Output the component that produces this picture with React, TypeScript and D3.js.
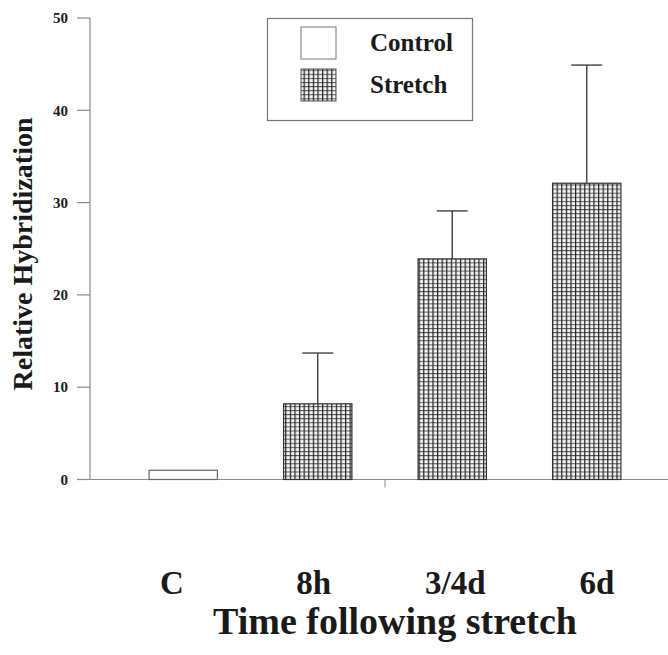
import React from "react";
import * as d3 from "d3";

const categories = ["C", "8h", "3/4d", "6d"];
const series = ["Control", "Stretch", "Stretch", "Stretch"];
const values = [1, 8.2, 23.9, 32.1];
const errorTops = [null, 13.7, 29.1, 44.9];
const yTicks = [0, 10, 20, 30, 40, 50];
const legendItems = ["Control", "Stretch"];
const xTitle = "Time following stretch";
const yTitle = "Relative Hybridization";

const W = 668;
const H = 655;
const FONT = "'Liberation Serif', 'Times New Roman', serif";

export default function App() {
  const y = d3.scaleLinear().domain([0, 50]).range([479.5, 18]);
  const x = d3.scalePoint<string>().domain(categories).range([116, 654]).padding(0.5);
  const step = x.step();
  const barW = step * 0.508;
  const capW = step * 0.23;
  const xl = d3.scalePoint<string>().domain(categories).range([172, 597]);
  const axisX = 90;
  const axisColor = "#8a8a8a";

  const midTick = ((x(categories[1]) as number) + (x(categories[2]) as number)) / 2;

  return (
    <svg
      width={W}
      height={H}
      style={{ position: "absolute", left: 0, top: 0, background: "#fff" }}
      fontFamily={FONT}
    >
      <defs>
        <pattern id="grid" width={4.6} height={4.1} patternUnits="userSpaceOnUse">
          <rect width={4.6} height={4.1} fill="#f2f2f2" />
          <line x1={0} y1={0.5} x2={4.6} y2={0.5} stroke="#555" strokeWidth={1} />
          <line x1={0.6} y1={0} x2={0.6} y2={4.1} stroke="#222" strokeWidth={1.2} />
        </pattern>
      </defs>

      {/* y axis */}
      <line x1={axisX} y1={y(50)} x2={axisX} y2={y(0)} stroke={axisColor} strokeWidth={1.2} />
      {yTicks.map((t) => (
        <g key={t}>
          <line x1={77} x2={axisX} y1={y(t)} y2={y(t)} stroke={axisColor} strokeWidth={1.2} />
          <text
            x={68}
            y={y(t)}
            dy="0.35em"
            textAnchor="end"
            fontSize={15}
            fontWeight="bold"
            fill="#1a1a1a"
          >
            {t}
          </text>
        </g>
      ))}
      {/* baseline */}
      <line x1={axisX} y1={y(0)} x2={W} y2={y(0)} stroke={axisColor} strokeWidth={1.2} />
      <line x1={midTick} x2={midTick} y1={y(0)} y2={y(0) + 8} stroke={axisColor} strokeWidth={1} />

      {/* bars */}
      {categories.map((c, i) => {
        const cx = x(c) as number;
        const top = y(values[i]);
        return (
          <g key={c}>
            <rect
              x={cx - barW / 2}
              y={top}
              width={barW}
              height={y(0) - top}
              fill={series[i] === "Control" ? "#fff" : "url(#grid)"}
              stroke={series[i] === "Control" ? "#666" : "#333"}
              strokeWidth={1.2}
            />
            {errorTops[i] != null && (
              <g stroke="#333" strokeWidth={1.3}>
                <line x1={cx} x2={cx} y1={top} y2={y(errorTops[i] as number)} />
                <line
                  x1={cx - capW / 2}
                  x2={cx + capW / 2}
                  y1={y(errorTops[i] as number)}
                  y2={y(errorTops[i] as number)}
                />
              </g>
            )}
          </g>
        );
      })}

      {/* legend */}
      <rect x={267.5} y={18.5} width={205} height={102} fill="#fff" stroke="#777" strokeWidth={1.2} />
      {legendItems.map((l, i) => (
        <g key={l}>
          <rect
            x={301}
            y={27 + i * 42}
            width={35}
            height={32}
            fill={l === "Control" ? "#fff" : "url(#grid)"}
            stroke={l === "Control" ? "#777" : "#555"}
            strokeWidth={1}
          />
          <text x={370} y={51 + i * 42} fontSize={25} fontWeight="bold" fill="#1a1a1a">
            {l}
          </text>
        </g>
      ))}

      {/* x labels */}
      {categories.map((c) => (
        <text
          key={c}
          x={xl(c) as number}
          y={594}
          textAnchor="middle"
          fontSize={33}
          fontWeight="bold"
          fill="#1a1a1a"
        >
          {c}
        </text>
      ))}
      <text x={395} y={634} textAnchor="middle" fontSize={38} fontWeight="bold" fill="#1a1a1a">
        {xTitle}
      </text>

      {/* y title */}
      <text
        transform={`translate(32, 254) rotate(-90)`}
        textAnchor="middle"
        fontSize={28}
        fontWeight="bold"
        fill="#1a1a1a"
      >
        {yTitle}
      </text>
    </svg>
  );
}
